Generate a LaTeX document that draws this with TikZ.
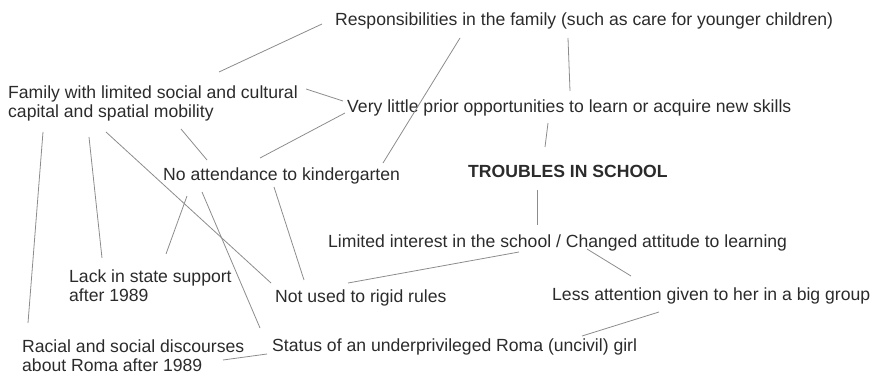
\documentclass[tikz,border=0pt]{standalone}
\usepackage{fontspec}
\setmainfont{Liberation Sans}
\definecolor{txtgrey}{HTML}{2B2B2B}
\definecolor{linkgrey}{HTML}{8C8C8C}
\tikzset{
  cause/.style={anchor=west, inner sep=0pt, align=left, text=txtgrey,
    font=\fontsize{17.6}{19.5}\selectfont},
  link/.style={draw=linkgrey, line width=0.8pt}
}

\begin{document}
\begin{tikzpicture}[x=1pt,y=-1pt]
\useasboundingbox (0,0) rectangle (873,374);

%% causes
\node[cause] (resp) at (335,20.5) {Responsibilities in the family (such as care for younger children)};
\node[cause] (fam) at (8,103.5) {Family with limited social and cultural\\capital and spatial mobility};
\node[cause] (little) at (347,108) {Very little prior opportunities to learn or acquire new skills};
\node[cause] (noatt) at (163,176) {No attendance to kindergarten};
\node[cause, font=\fontsize{17.6}{19.5}\selectfont\bfseries] (troub) at (468,171) {TROUBLES IN SCHOOL};
\node[cause] (limit) at (328,243) {Limited interest in the school / Changed attitude to learning};
\node[cause] (lack) at (69,285.5) {Lack in state support\\after 1989};
\node[cause] (notused) at (275,298) {Not used to rigid rules};
\node[cause] (less) at (552,296) {Less attention given to her in a big group};
\node[cause] (racial) at (22,355.5) {Racial and social discourses\\about Roma after 1989};
\node[cause] (status) at (272,347) {Status of an underprivileged Roma (uncivil) girl};

%% links
\draw[link] ([shift={(-13,3.5)}]resp.west) -- ([shift={(211,-31.5)}]fam.west);
\draw[link] ([shift={(298,-14.5)}]fam.west) -- ([shift={(-4,-7)}]little.west);
\draw[link] ([shift={(-2,5)}]little.west) -- ([shift={(97,-18)}]noatt.west);
\draw[link] ([shift={(173,25.5)}]fam.west) -- ([shift={(44,-16)}]noatt.west);
\draw[link] ([shift={(125,17.5)}]resp.west) -- ([shift={(220,-13)}]noatt.west);
\draw[link] ([shift={(35,28.5)}]fam.west) -- ([shift={(6,-32.5)}]racial.west);
\draw[link] ([shift={(81,33.5)}]fam.west) -- ([shift={(33,-27.5)}]lack.west);
\draw[link] ([shift={(98,28.5)}]fam.west) -- ([shift={(-4,-15)}]notused.west);
\draw[link] ([shift={(24,20)}]noatt.west) -- ([shift={(97,-31.5)}]lack.west);
\draw[link] ([shift={(39,16)}]noatt.west) -- ([shift={(-12,-19)}]status.west);
\draw[link] ([shift={(111,11)}]noatt.west) -- ([shift={(29,-18)}]notused.west);
\draw[link] ([shift={(201,4.5)}]racial.west) -- ([shift={(-5,7)}]status.west);
\draw[link] ([shift={(191,9)}]limit.west) -- ([shift={(73,-15)}]notused.west);
\draw[link] ([shift={(259,6)}]limit.west) -- ([shift={(79,-20)}]less.west);
\draw[link] ([shift={(107,16)}]less.west) -- ([shift={(310,-11)}]status.west);
\draw[link] ([shift={(69,19)}]troub.west) -- ([shift={(209,-18)}]limit.west);
\draw[link] ([shift={(201,15)}]little.west) -- ([shift={(77,-24)}]troub.west);
\draw[link] ([shift={(233,17.5)}]resp.west) -- ([shift={(223,-17)}]little.west);

\end{tikzpicture}
\end{document}
